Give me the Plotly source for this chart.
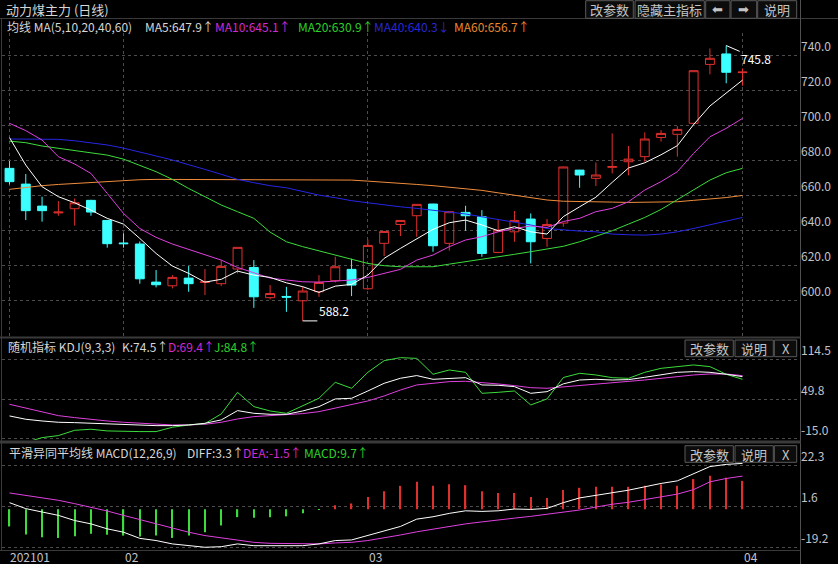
import plotly.graph_objects as go

W, H = 838, 564
FONT = "Noto Sans CJK SC"

# ---------------- data ----------------
idx = list(range(46))
month_ticks = [0, 7, 22, 45]
month_labels = ["202101", "02", "03", "04"]

opens = [675.5, 666.5, 653.9, 650.0, 652.4, 657.2, 645.7, 632.8, 632.2, 610.4,
         608.3, 612.7, 610.2, 609.5, 617.9, 618.8, 601.5, 602.2, 599.7, 604.9,
         611.2, 617.7, 606.6, 632.6, 643.4, 648.4, 655.1, 632.6, 650.3, 647.8,
         627.4, 639.2, 646.5, 635.4, 644.2, 674.5, 669.8, 676.1, 679.3, 682.2,
         693.2, 695.0, 701.3, 735.0, 741.0, 730.3]
highs = [679.7, 672.3, 659.3, 656.8, 658.3, 657.5, 646.0, 638.3, 633.7, 617.3,
         614.4, 619.6, 617.9, 623.0, 630.3, 623.0, 608.7, 607.7, 607.7, 614.4,
         624.9, 623.8, 634.8, 639.6, 645.8, 655.0, 655.2, 651.0, 654.1, 651.6,
         646.5, 651.1, 649.7, 646.5, 676.5, 674.6, 678.9, 695.5, 688.3, 696.1,
         697.4, 699.7, 731.5, 744.2, 745.8, 732.7]
lows = [666.3, 645.9, 645.0, 648.4, 642.7, 648.4, 630.1, 630.1, 609.5, 607.4,
        606.8, 604.9, 603.0, 608.1, 615.4, 595.7, 600.5, 593.4, 588.2, 602.0,
        610.2, 602.4, 606.0, 625.3, 636.8, 636.4, 627.8, 628.4, 639.8, 624.9,
        627.0, 633.5, 621.1, 630.6, 642.1, 664.4, 665.4, 672.6, 671.5, 679.3,
        690.8, 682.2, 700.3, 729.3, 724.2, 722.8]
closes = [667.9, 651.3, 651.3, 650.5, 655.8, 650.5, 632.4, 632.4, 612.3, 608.9,
          613.1, 609.5, 610.6, 619.4, 630.3, 602.0, 603.9, 601.8, 605.3, 610.2,
          619.2, 608.7, 631.4, 639.4, 645.7, 654.9, 631.2, 650.7, 648.4, 626.8,
          640.2, 645.7, 633.5, 643.4, 676.3, 671.7, 671.7, 676.5, 680.8, 692.3,
          695.5, 697.8, 731.4, 738.5, 730.5, 730.6]

ma5 = [693.1, 677.4, 665.0, 659.3, 655.8, 651.6, 646.9, 643.6, 635.4, 626.8,
       619.6, 615.4, 610.4, 612.0, 616.7, 614.4, 613.1, 610.0, 607.8, 604.5,
       608.1, 609.1, 614.4, 624.0, 629.7, 635.4, 640.6, 644.4, 645.9, 643.1,
       639.8, 642.1, 639.2, 637.9, 647.9, 653.5, 659.0, 667.5, 675.7, 678.7,
       683.3, 688.5, 700.6, 711.2, 718.8, 726.0]
ma10 = [701.3, 697.1, 691.7, 682.2, 678.0, 672.6, 661.2, 649.7, 641.1, 636.0,
        632.2, 629.2, 625.9, 623.0, 618.8, 615.8, 612.7, 611.6, 610.6, 610.4,
        611.2, 611.6, 613.1, 615.4, 617.7, 623.0, 625.9, 630.7, 634.5, 636.4,
        639.2, 641.1, 642.5, 641.7, 645.1, 646.9, 650.7, 652.6, 656.4, 663.1,
        667.9, 673.6, 684.1, 693.6, 698.4, 704.1]
ma20 = [691.1, 690.2, 688.3, 686.9, 685.6, 684.5, 683.1, 680.8, 677.4, 673.6,
        669.2, 664.0, 659.3, 654.5, 650.7, 646.9, 639.0, 633.5, 630.7, 628.2,
        625.9, 623.6, 621.1, 619.8, 619.2, 619.2, 619.2, 620.7, 622.0, 623.4,
        624.9, 626.3, 627.8, 629.4, 630.9, 633.5, 636.8, 639.8, 643.6, 647.4,
        652.0, 657.7, 663.1, 668.8, 673.0, 675.5]
ma40 = [692.3, 692.3, 692.3, 692.1, 691.3, 690.2, 688.9, 687.1, 685.0, 682.6,
        680.3, 677.4, 674.9, 672.1, 669.2, 667.3, 665.6, 664.4, 662.1, 660.2,
        658.7, 657.0, 655.8, 654.5, 653.5, 652.6, 651.6, 650.7, 649.4, 647.8,
        646.3, 645.0, 643.1, 641.1, 640.3, 639.6, 639.2, 637.9, 637.5, 637.3,
        637.9, 639.2, 641.1, 643.1, 645.3, 647.4]
ma60 = [663.5, 664.6, 665.6, 666.3, 666.9, 667.5, 668.1, 668.6, 669.0, 669.2,
        669.2, 669.2, 669.2, 669.2, 669.2, 669.2, 669.2, 669.2, 669.2, 669.2,
        669.2, 668.8, 668.2, 667.7, 666.9, 666.3, 665.6, 664.8, 663.8, 662.9,
        661.5, 660.0, 658.5, 657.4, 656.7, 656.4, 656.4, 656.2, 656.0, 656.0,
        656.0, 656.4, 657.2, 657.9, 658.8, 660.0]

k_vals = [22.2, 16.8, 14.0, 11.9, 11.3, 10.2, 8.6, 7.5, 7.5, 6.4,
          6.4, 7.5, 10.2, 15.7, 30.9, 26.5, 24.9, 24.9, 30.3, 37.4,
          49.9, 51.0, 62.9, 75.4, 83.6, 88.0, 81.9, 83.5, 84.6, 72.7,
          72.2, 70.0, 59.1, 61.8, 74.5, 80.8, 81.9, 80.8, 81.4, 85.2,
          89.0, 93.3, 94.4, 93.3, 90.1, 86.3]
d_vals = [41.2, 34.7, 28.2, 22.7, 19.5, 16.2, 14.0, 11.9, 10.2, 8.6,
          7.5, 7.5, 8.6, 11.9, 17.3, 21.1, 22.7, 23.8, 26.0, 29.2,
          34.7, 40.1, 46.6, 54.8, 64.5, 72.7, 74.9, 78.1, 78.7, 77.0,
          74.3, 71.6, 68.3, 67.3, 69.4, 71.6, 74.3, 76.5, 78.1, 80.8,
          83.5, 86.8, 89.0, 90.6, 90.6, 87.9]
j_vals = [-22.0, -21.0, -13.1, -9.8, -1.2, 0.5, -2.2, -3.3, -3.3, -3.3,
          3.7, 7.5, 9.7, 25.5, 60.7, 37.4, 30.3, 26.5, 39.0, 51.0,
          77.0, 67.3, 93.3, 112.3, 117.2, 116.0, 90.1, 97.1, 93.3, 59.1,
          60.7, 62.9, 40.1, 49.9, 84.8, 91.7, 89.0, 84.6, 83.5, 93.3,
          99.8, 102.6, 105.3, 102.6, 90.1, 81.9]

macd_hist = [-8.7, -12.8, -14.1, -14.5, -13.6, -12.4, -12.9, -13.3, -13.8, -13.3,
             -14.5, -13.3, -11.6, -8.2, -4.0, -4.3, -4.0, -3.6, -2.0, -0.1,
             2.0, 2.9, 6.2, 9.1, 11.8, 13.8, 11.8, 12.6, 12.1, 9.1,
             8.2, 8.2, 6.2, 5.7, 9.7, 10.8, 11.3, 11.3, 11.3, 11.8,
             12.5, 11.8, 15.2, 16.9, 15.9, 14.3]
diff_vals = [3.3, 0.3, -1.4, -3.1, -5.7, -7.4, -9.9, -11.6, -14.7, -15.8,
             -17.5, -18.4, -19.2, -18.9, -17.5, -18.4, -18.4, -18.7, -18.4, -17.5,
             -15.8, -15.5, -13.3, -11.1, -8.7, -5.0, -3.8, -2.1, -0.8, -1.1,
             -0.8, 0.1, -0.1, 0.4, 3.3, 5.7, 7.0, 8.4, 9.6, 11.3,
             13.0, 14.3, 18.1, 21.5, 22.6, 23.1]
dea_vals = [8.2, 7.0, 5.9, 4.5, 2.8, 1.1, -0.9, -3.1, -5.2, -7.4,
            -9.4, -11.6, -13.3, -14.5, -15.8, -16.7, -17.2, -17.2, -17.5, -17.5,
            -17.0, -16.7, -15.8, -14.5, -13.0, -11.4, -10.0, -8.6, -7.4, -6.4,
            -5.3, -4.5, -3.6, -2.6, -1.5, -0.4, 1.1, 2.5, 3.5, 4.8,
            6.2, 7.6, 9.9, 13.8, 15.5, 16.7]

price_ticks = [600, 620, 640, 660, 680, 700, 720, 740]
kdj_ticks = [114.5, 49.8, -15.0]
macd_ticks = [22.3, 1.6, -19.2]

# ---------------- colours ----------------
RED = "#e0302e"
CYAN = "#3cffff"
C_MA5, C_MA10, C_MA20, C_MA40, C_MA60 = "#ffffff", "#e040e0", "#3cdc3c", "#2626e6", "#f08c3c"
TXT = "#d6d6d6"
AX = "#c2c2ca"
GRID = "#4c4c4c"
SEP = "#3a3a3a"


def px(p):
    return p / W


def py(p):
    return 1 - p / H


fig = go.Figure()

fig.add_trace(go.Candlestick(
    x=idx, open=opens, high=highs, low=lows, close=closes,
    increasing=dict(line=dict(color=RED, width=1), fillcolor="rgba(0,0,0,0)"),
    decreasing=dict(line=dict(color=CYAN, width=1), fillcolor=CYAN),
    whiskerwidth=0, xaxis="x", yaxis="y", hoverinfo="skip"))

for vals, col in [(ma60, C_MA60), (ma40, C_MA40), (ma20, C_MA20), (ma10, C_MA10), (ma5, C_MA5)]:
    fig.add_trace(go.Scatter(x=idx, y=vals, mode="lines", line=dict(color=col, width=1),
                             xaxis="x", yaxis="y", hoverinfo="skip"))

for vals, col in [(d_vals, C_MA10), (j_vals, C_MA20), (k_vals, C_MA5)]:
    fig.add_trace(go.Scatter(x=idx, y=vals, mode="lines", line=dict(color=col, width=1),
                             xaxis="x2", yaxis="y2", hoverinfo="skip"))

bar_cols = [RED if v >= 0 else "#3cdc3c" for v in macd_hist]
fig.add_trace(go.Bar(x=idx, y=macd_hist, width=0.08, marker=dict(color=bar_cols, line=dict(width=0)),
                     xaxis="x3", yaxis="y3", hoverinfo="skip"))
for vals, col in [(dea_vals, C_MA10), (diff_vals, C_MA5)]:
    fig.add_trace(go.Scatter(x=idx, y=vals, mode="lines", line=dict(color=col, width=1),
                             xaxis="x3", yaxis="y3", hoverinfo="skip"))

xdom = [px(2), px(800)]
xr = [-0.46, 48.53]
common_x = dict(domain=xdom, range=xr, showticklabels=False, zeroline=False, fixedrange=True,
                ticks="", showline=False)


def yax(dom, rng, tv, tt, grid=True):
    return dict(domain=dom, range=rng, side="right", tickvals=tv, ticktext=tt,
                ticklabelposition="outside top",
                showgrid=grid, gridcolor=GRID, griddash="dot",
                gridwidth=1, zeroline=False, showline=False, ticks="", fixedrange=True,
                tickfont=dict(family=FONT, size=12, color=AX))


fig.update_layout(
    width=W, height=H, margin=dict(l=0, r=0, t=0, b=0),
    paper_bgcolor="black", plot_bgcolor="black", showlegend=False, boxgap=0.22,
    font=dict(family=FONT, size=12, color=TXT),
    xaxis=dict(**common_x, anchor="y", tickvals=month_ticks, showgrid=True, gridcolor=GRID,
               griddash="dot", rangeslider=dict(visible=False)),
    xaxis2=dict(**common_x, anchor="y2", matches="x", showgrid=False),
    xaxis3=dict(**common_x, anchor="y3", matches="x", showgrid=False),
    yaxis=yax([py(336), py(33)], [579.56, 752.98], price_ticks, [f"{v:.1f}" for v in price_ticks]),
    yaxis2=yax([py(440), py(339)], [-17.0, 147.6], kdj_ticks, [f"{v:.1f}" for v in kdj_ticks]),
    yaxis3=yax([py(550), py(444)], [-20.57, 32.89], macd_ticks, [f"{v:.1f}" for v in macd_ticks]),
)

shapes = []
# frame / separators
shapes.append(dict(type="line", xref="paper", yref="paper", x0=0, x1=1, y0=py(18.5), y1=py(18.5),
                   line=dict(color=SEP, width=1)))
shapes.append(dict(type="line", xref="paper", yref="paper", x0=px(800.5), x1=px(800.5), y0=0, y1=1,
                   line=dict(color="#505050", width=1)))
shapes.append(dict(type="line", xref="paper", yref="paper", x0=px(1.5), x1=px(1.5), y0=py(550), y1=py(19),
                   line=dict(color=SEP, width=1)))
for yy, wd in [(337.5, 2), (442, 3), (550.5, 1)]:
    shapes.append(dict(type="line", xref="paper", yref="paper", x0=0, x1=px(800.5), y0=py(yy), y1=py(yy),
                       line=dict(color=SEP, width=wd)))

annotations = []


def text(xp, yp, s, col=TXT, size=12, anchor="left"):
    annotations.append(dict(xref="paper", yref="paper", x=px(xp), y=py(yp), text=s, showarrow=False,
                            xanchor=anchor, yanchor="middle",
                            font=dict(family=FONT, size=size, color=col)))


def button(x0, x1, y0, y1, s, fam=FONT):
    shapes.append(dict(type="rect", xref="paper", yref="paper", x0=px(x0), x1=px(x1), y0=py(y1), y1=py(y0),
                       line=dict(color="#5a5a5a", width=1), fillcolor="#0c0c0c"))
    annotations.append(dict(xref="paper", yref="paper", x=px((x0 + x1) / 2), y=py((y0 + y1) / 2), text=s,
                            showarrow=False, xanchor="center", yanchor="middle",
                            font=dict(family=fam, size=13, color="#c4c4c4")))


text(4, 9.5, "动力煤主力 (日线)", TXT, 13)

for xp, s, col in [(5, "均线 MA(5,10,20,40,60)", TXT), (143, "MA5:647.9↑", TXT),
                   (213, "MA10:645.1↑", "#d22ad2"), (296, "MA20:630.9↑", "#2ad22a"),
                   (372, "MA40:640.3↓", "#2828d8"), (452, "MA60:656.7↑", "#e8882e")]:
    text(xp, 27, s, col)

for xp, s, col in [(6, "随机指标 KDJ(9,3,3)", TXT), (120, "K:74.5↑", TXT),
                   (166, "D:69.4↑", "#d22ad2"), (212, "J:84.8↑", "#2ad22a")]:
    text(xp, 346.7, s, col)

for xp, s, col in [(7, "平滑异同平均线 MACD(12,26,9)", TXT), (185, "DIFF:3.3↑", TXT),
                   (241, "DEA:-1.5↑", "#d22ad2"), (302, "MACD:9.7↑", "#2ad22a")]:
    text(xp, 452.7, s, col)

button(585.7, 633.3, 0.7, 18.3, "改参数")
button(635, 704.3, 0.7, 18.3, "隐藏主指标")
button(705.7, 730, 0.7, 18.3, "⬅", "DejaVu Sans")
button(731, 756.7, 0.7, 18.3, "➡", "DejaVu Sans")
button(757.7, 796.7, 0.7, 18.3, "说明")
for (y0, y1) in [(340, 356.7), (445.7, 462.3)]:
    button(685, 733.3, y0, y1, "改参数")
    button(735, 773.3, y0, y1, "说明")
    button(774.3, 796.7, y0, y1, "X")

# month labels under the MACD panel
for t, lab in zip(month_ticks, month_labels):
    annotations.append(dict(xref="x3", yref="paper", x=t, y=py(556.7), text=lab, showarrow=False,
                            xanchor="left", yanchor="middle", xshift=-1,
                            font=dict(family=FONT, size=12, color=AX)))

# highest / lowest markers
imax = max(idx, key=lambda i: highs[i])
imin = min(idx, key=lambda i: lows[i])
annotations.append(dict(xref="x", yref="y", x=imax, y=highs[imax], text=f"{highs[imax]:.1f}",
                        showarrow=True, arrowhead=0, arrowwidth=1, arrowcolor="white", ax=30, ay=13,
                        standoff=0, font=dict(family=FONT, size=12, color="white")))
shapes.append(dict(type="line", xref="x", yref="y", x0=imin, x1=imin + 0.9, y0=lows[imin], y1=lows[imin],
                   line=dict(color="white", width=1)))
annotations.append(dict(xref="x", yref="y", x=imin + 0.9, y=lows[imin], text=f"{lows[imin]:.1f}",
                        showarrow=False, xanchor="left", yanchor="bottom",
                        font=dict(family=FONT, size=12, color="white")))

fig.update_layout(shapes=shapes, annotations=annotations)
fig.write_html("out.html")
